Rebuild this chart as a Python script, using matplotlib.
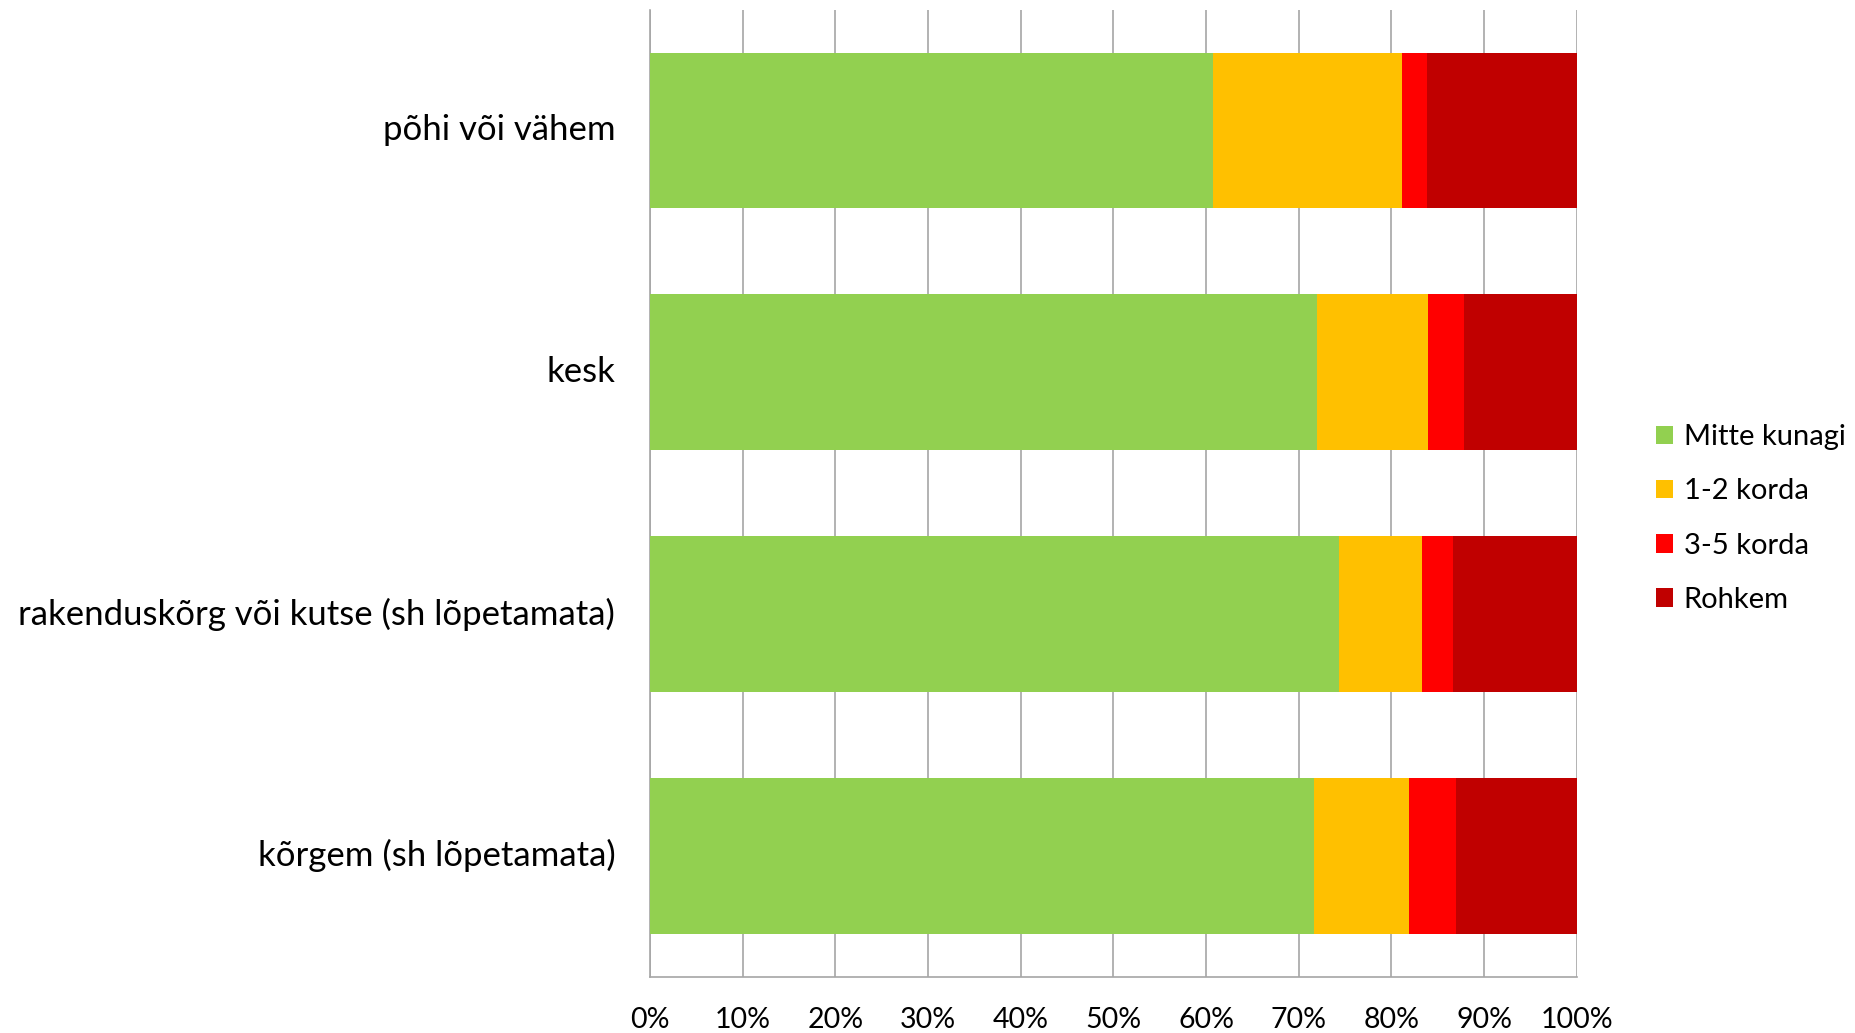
import matplotlib
matplotlib.use("Agg")
import matplotlib.pyplot as plt
from matplotlib.patches import Patch
import numpy as np

categories = ["põhi või vähem", "kesk", "rakenduskõrg või kutse (sh lõpetamata)", "kõrgem (sh lõpetamata)"]
series_names = ["Mitte kunagi", "1-2 korda", "3-5 korda", "Rohkem"]
mitte_kunagi = [60.8, 72.0, 74.3, 71.7]
korda_1_2 = [20.3, 12.0, 9.0, 10.2]
korda_3_5 = [2.7, 3.8, 3.3, 5.1]
rohkem = [16.2, 12.2, 13.4, 13.0]
colors = ["#92D050", "#FFC000", "#FF0000", "#C00000"]
xticks = [0, 10, 20, 30, 40, 50, 60, 70, 80, 90, 100]
xticklabels = [f"{v}%" for v in xticks]

plt.rcParams['font.family'] = ['Lato', 'DejaVu Sans']

fig = plt.figure(figsize=(18.55, 10.33), dpi=100)
ax = fig.add_axes([0.3504, 0.0545, 0.850 - 0.3504, 0.9908 - 0.0545])

y = np.arange(len(categories))
left = np.zeros(len(categories))
for vals, name, c in zip([mitte_kunagi, korda_1_2, korda_3_5, rohkem], series_names, colors):
    ax.barh(y, vals, left=left, height=0.644, color=c, label=name, zorder=3)
    left += np.array(vals)

ax.set_xlim(0, 100)
ax.set_ylim(len(categories) - 0.5, -0.5)
ax.set_xticks(xticks)
ax.set_xticklabels(xticklabels, fontsize=20.5)
ax.set_yticks(y)
ax.set_yticklabels(categories, fontsize=25, va='center')
ax.tick_params(axis='x', length=0, pad=22)
ax.tick_params(axis='y', length=0, pad=25)
ax.grid(axis='x', color='#A6A6A6', linewidth=1.2, zorder=0)
for s in ['top', 'right']:
    ax.spines[s].set_visible(False)
for s in ['left', 'bottom']:
    ax.spines[s].set_color('#A6A6A6')
    ax.spines[s].set_linewidth(1.2)

handles = [Patch(facecolor=c, label=n) for c, n in zip(colors, series_names)]
fig.legend(handles=handles, loc='center left', bbox_to_anchor=(0.8927, 0.498),
           frameon=False, fontsize=21, handlelength=0.6, handleheight=0.6,
           handletextpad=0.35, labelspacing=0.97, borderpad=0, borderaxespad=0)

fig.savefig("out.png", dpi=100)
